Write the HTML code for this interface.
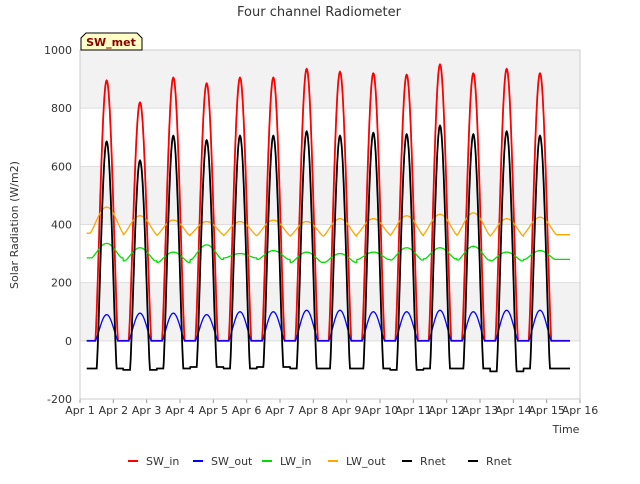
<!DOCTYPE html>
<html><head><meta charset="utf-8"><style>
body{margin:0;background:#fff;font-family:"DejaVu Sans","Liberation Sans",sans-serif}
text{font-family:"DejaVu Sans","Liberation Sans",sans-serif}
</style></head><body>
<svg id="c" width="640" height="480" xmlns="http://www.w3.org/2000/svg">
<text x="319" y="16" font-size="13" fill="#333" text-anchor="middle">Four channel Radiometer</text>
<text x="566" y="433" font-size="11" fill="#333" text-anchor="middle">Time</text>
<text transform="translate(18,225) rotate(-90)" font-size="11" fill="#333" text-anchor="middle">Solar Radiation (W/m2)</text>
<g id="plot"></g>
<g>
<path d="M81,50 L81,38 L86,33 L137,33 L142,38 L142,50 Z" fill="#ffffc8" stroke="#000" stroke-width="1"/>
<text x="111" y="46" font-size="11" font-weight="bold" fill="#8b0000" text-anchor="middle">SW_met</text>
</g>
<g id="legend"></g>
</svg>
<script>
const days=["Apr 1","Apr 2","Apr 3","Apr 4","Apr 5","Apr 6","Apr 7","Apr 8","Apr 9","Apr 10","Apr 11","Apr 12","Apr 13","Apr 14","Apr 15","Apr 16"];
const yTicks=[-200,0,200,400,600,800,1000];
const swInPeak=[895,820,905,885,905,905,935,925,920,915,950,920,935,920];
const swOutPeak=[90,95,95,90,100,100,105,105,100,100,105,100,105,105];
const lwInBase=[285,275,270,280,285,280,270,270,280,278,282,278,275,280];
const lwInPeak=[335,320,305,330,300,310,305,300,305,320,320,325,305,310];
const lwOutBase=[370,365,362,365,362,362,360,360,365,362,365,362,360,365];
const lwOutPeak=[460,430,415,410,410,415,410,420,420,430,435,440,420,425];
const rnetPeak=[685,620,705,690,705,705,720,705,715,710,740,710,720,705];
const rnetNight=[-95,-100,-95,-90,-95,-90,-95,-95,-95,-100,-95,-95,-105,-95];
const L=80,R=580,T=50,B=399;
const xs=d=>L+(R-L)*d/15;
const ys=v=>B-(v+200)/1200*(B-T);
const NS="http://www.w3.org/2000/svg";
const plot=document.getElementById('plot');
function el(t,a,p){const e=document.createElementNS(NS,t);for(const k in a)e.setAttribute(k,a[k]);(p||plot).appendChild(e);return e;}
// bands
for(let i=0;i<6;i++){
 const v0=-200+i*200;
 const r=el('rect',{x:L,y:ys(v0+200),width:R-L,height:ys(v0)-ys(v0+200),fill:(i%2==1)?'#f2f2f2':'#fff'});
 
 
}
yTicks.forEach(v=>{
 const g=el('line',{x1:L,x2:R,y1:ys(v),y2:ys(v),stroke:'#ddd','stroke-width':1});
 
 
 const t=el('text',{x:L-8,y:ys(v)+4,'font-size':11,fill:'#333','text-anchor':'end'});
 t.textContent=v;
 
 
});
days.forEach((d,i)=>{
 const t=el('text',{x:xs(i),y:414,'font-size':11,fill:'#333','text-anchor':'middle'});
 t.textContent=d;
 
 
 el('line',{x1:xs(i),x2:xs(i),y1:B,y2:B+4,stroke:'#999'});
});
el('rect',{x:L,y:T,width:R-L,height:B-T,fill:'none',stroke:'#ccc'});
function bump(t,w){const n=days.length-2;let best={i:-1,p:0};for(let i=0;i<14;i++){const ph=(t-(i+0.8))/w;if(Math.abs(ph)<1){best={i:i,p:Math.pow(Math.cos(ph*Math.PI/2),1.3)};}}
 if(best.i<0){const i=Math.max(0,Math.min(13,Math.round(t-0.8)));return{i:i,p:0};}return best;}
function series(fn,color,name,w){
 let d='';for(let t=0.2;t<=14.7;t+=0.01){const v=fn(t);d+=(d?'L':'M')+xs(t).toFixed(1)+','+ys(v).toFixed(1);}
 const p=el('path',{d:d,fill:'none',stroke:color,'stroke-width':w||1.5});
 
 
}
series(t=>{const b=bump(t,0.34);return swInPeak[b.i]*b.p;},'#ff0000','sw-in-line',1.8);
series(t=>{const b=bump(t,0.34);return swOutPeak[b.i]*b.p;},'#0000ff','sw-out-line',1.3);
series(t=>{const b=bump(t,0.45);return lwInBase[b.i]+(lwInPeak[b.i]-lwInBase[b.i])*b.p;},'#00dd00','lw-in-line',1.3);
series(t=>{const b=bump(t,0.5);return lwOutBase[b.i]+(lwOutPeak[b.i]-lwOutBase[b.i])*b.p;},'#ffa500','lw-out-line',1.3);
series(t=>{const b=bump(t,0.3);return rnetNight[b.i]+(rnetPeak[b.i]-rnetNight[b.i])*b.p;},'#000000','rnet-line',1.8);
const leg=[["SW_in","#ff0000",128],["SW_out","#0000ff",193],["LW_in","#00dd00",262],["LW_out","#ffa500",328],["Rnet","#000",402],["Rnet","#000",468]];
const lg=document.getElementById('legend');
leg.forEach(([n,c,x])=>{
 const g=el('g',{},lg);
 
 
 el('line',{x1:x,x2:x+10,y1:461,y2:461,stroke:c,'stroke-width':2},g);
 const t=el('text',{x:x+18,y:465,'font-size':11,fill:'#333'},g);t.textContent=n;
});
</script>
</body></html>
